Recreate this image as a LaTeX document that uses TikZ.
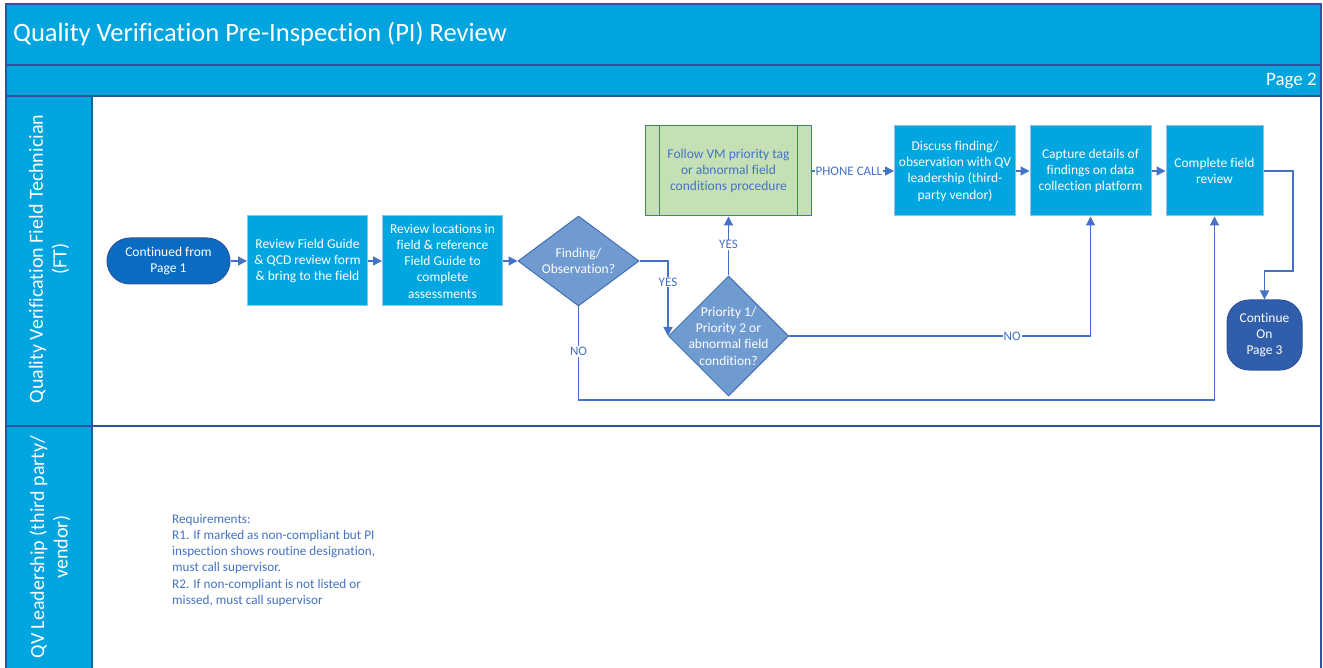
\documentclass[tikz,border=0pt]{standalone}
\usepackage{fontspec}
\setmainfont{Carlito}[Ligatures=NoCommon]
\usetikzlibrary{arrows.meta,shapes.geometric,calc}
\definecolor{bandcyan}{RGB}{0,165,223}
\definecolor{boxcyan}{RGB}{0,166,224}
\definecolor{boxedge}{RGB}{140,196,232}
\definecolor{frameblue}{RGB}{47,82,160}
\definecolor{linkblue}{RGB}{68,114,196}
\definecolor{termblue}{RGB}{10,108,192}
\definecolor{diafill}{RGB}{112,155,208}
\definecolor{diaedge}{RGB}{70,110,180}
\definecolor{greenfill}{RGB}{197,224,180}
\definecolor{contfill}{RGB}{48,94,170}
\tikzset{
  procbox/.style={rectangle, fill=boxcyan, draw=boxedge, line width=1pt, text=white, align=center,
    font=\fontsize{13.5}{16.3}\selectfont, inner sep=0pt, minimum height=90pt},
  termnode/.style={rectangle, fill=termblue, draw=frameblue, line width=1pt, text=white, align=center,
    font=\fontsize{13.5}{16.3}\selectfont, inner sep=0pt},
  diashape/.style={diamond, fill=diafill, draw=diaedge, line width=1pt, inner sep=0pt},
  diatext/.style={text=white, align=center, font=\fontsize{13.5}{16.3}\selectfont, inner sep=0pt},
  link/.style={draw=linkblue, line width=1.3pt, -{Triangle[length=9pt,width=9pt]}},
  linklabel/.style={fill=white, text=linkblue, font=\fontsize{13}{15}\selectfont, inner sep=1pt},
  lanetext/.style={text=white, align=center, rotate=90, font=\fontsize{20}{23.5}\selectfont, inner sep=0pt},
  frameline/.style={draw=frameblue, line width=1.2pt}
}
\begin{document}
\begin{tikzpicture}[x=1pt,y=-1pt]
\useasboundingbox (0,0) rectangle (1323,668);
\fill[white] (0,0) rectangle (1323,668);
% bands
\fill[bandcyan] (6,4) rectangle (1321,96);
\fill[bandcyan] (6,96) rectangle (92,668);
\draw[frameline] (6,668) -- (6,4) -- (1321,4) -- (1321,668);
\draw[frameline] (6,65) -- (1321,65);
\draw[frameline] (6,96) -- (1321,96);
\draw[frameline] (6,426) -- (1321,426);
\draw[frameline] (92,96) -- (92,668);
\node[anchor=west, text=white, font=\fontsize{26.5}{30}\selectfont, inner sep=0pt] (title) at (13,34) {Quality Verification Pre-Inspection (PI) Review};
\node[anchor=east, text=white, font=\fontsize{19}{23}\selectfont, inner sep=0pt] (page) at (1317,81) {Page 2};
\node[lanetext] (lane1) at (49,259) {Quality Verification Field Technician\\(FT)};
\node[lanetext] (lane2) at (50,547) {QV Leadership (third party/\\vendor)};
% nodes
\node[termnode, minimum width=123pt, minimum height=46pt, rounded corners=23pt] (st) at (168.5,261) {Continued from\\Page 1};
\node[procbox, minimum width=120pt] (b1) at (307.5,261) {Review Field Guide\\\& QCD review form\\\& bring to the field};
\node[procbox, minimum width=120pt] (b2) at (442.5,261) {Review locations in\\field \& reference\\Field Guide to\\complete\\assessments};
\node[diashape, minimum width=121pt, minimum height=90pt] (d1) at (578.5,261) {};
\node[diatext] (d1t) at (d1.center) {Finding/\\Observation?};
\node[diashape, minimum width=120pt, minimum height=120pt] (d2) at (728.5,336) {};
\node[diatext] (d2t) at (d2.center) {Priority 1/\\Priority 2 or\\abnormal field\\condition?};
\node[rectangle, fill=greenfill, draw=linkblue, line width=1pt, minimum width=166pt, minimum height=90pt, inner sep=0pt,
  text=linkblue, align=center, font=\fontsize{13.5}{16.3}\selectfont] (gr) at (728.5,171) {Follow VM priority tag\\or abnormal field\\conditions procedure};
\draw[draw=linkblue, line width=1pt] ([xshift=14.5pt]gr.north west) -- ([xshift=14.5pt]gr.south west);
\draw[draw=linkblue, line width=1pt] ([xshift=-14.5pt]gr.north east) -- ([xshift=-14.5pt]gr.south east);
\node[procbox, minimum width=121pt] (disc) at (955,171) {Discuss finding/\\observation with QV\\leadership (third-\\party vendor)};
\node[procbox, minimum width=121pt] (cap) at (1090.5,171) {Capture details of\\findings on data\\collection platform};
\node[procbox, minimum width=97pt] (comp) at (1214.5,171) {Complete field\\review};
\node[termnode, fill=contfill, minimum width=75pt, minimum height=70pt, rounded corners=22pt] (cont) at (1264.5,335) {Continue\\On\\Page 3};
% requirements
\node[anchor=north west, align=left, text=linkblue, font=\fontsize{13.2}{16.2}\selectfont, inner sep=0pt] (req) at (172,514)
  {Requirements:\\R1. If marked as non-compliant but PI\\inspection shows routine designation,\\must call supervisor.\\R2. If non-compliant is not listed or\\missed, must call supervisor};
% connectors
\draw[link] (st) -- (b1);
\draw[link] (b1) -- (b2);
\draw[link] (b2) -- (d1.west);
\draw[link] (d1.east) -| node[linklabel, pos=0.64] {YES} (d2.west);
\draw[link] (d2.north) -- node[linklabel, pos=0.52] {YES} (gr.south);
\draw[link] (d2.east) -| node[linklabel, pos=0.37] {NO} (cap.south);
\draw[link] (gr.east) -- node[linklabel, pos=0.45] {PHONE CALL} (disc.west);
\draw[link] (disc) -- (cap);
\draw[link] (cap) -- (comp);
\coordinate (lowleft) at (578.5,400);
\draw[link] (d1.south) -- node[linklabel, pos=0.48] {NO} (lowleft) -| (comp.south);
\coordinate (r1) at (1293,171);
\coordinate (r2) at (1293,271);
\draw[link] (comp.east) -- (r1) -- (r2) -| (cont.north);
\end{tikzpicture}
\end{document}
